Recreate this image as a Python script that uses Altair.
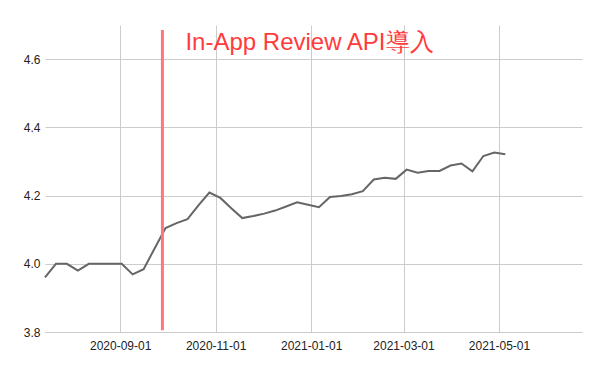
import altair as alt
import pandas as pd

start_date = "2020-07-15"
ratings = [3.960, 4.000, 4.000, 3.980, 4.000, 4.000, 4.000, 4.000, 3.969, 3.984,
           4.045, 4.105, 4.119, 4.131, 4.171, 4.209, 4.193, 4.163, 4.134, 4.140,
           4.147, 4.156, 4.168, 4.180, 4.173, 4.166, 4.196, 4.199, 4.204, 4.213,
           4.247, 4.252, 4.249, 4.276, 4.267, 4.272, 4.272, 4.288, 4.294, 4.271,
           4.316, 4.326, 4.321]
dates = pd.date_range(start_date, periods=len(ratings), freq="7D").strftime("%Y-%m-%d").tolist()

event_date = ["2020-09-28"]
event_label = ["In-App Review API導入"]
event_y = [4.685]
event_y2 = [3.805]

x_ticks = [(2020, 9), (2020, 11), (2021, 1), (2021, 3), (2021, 5)]
y_ticks = [3.8, 4.0, 4.2, 4.4, 4.6]

df = pd.DataFrame({"date": dates, "rating": ratings})
ev = pd.DataFrame({"date": event_date, "label": event_label, "y": event_y, "y2": event_y2})

font = "Liberation Sans"

x_scale = alt.Scale(type="utc",
                    domain=[alt.DateTime(year=2020, month=7, date=15, utc=True),
                            alt.DateTime(year=2021, month=6, date=23, utc=True)])
y_scale = alt.Scale(domain=[3.8, 4.7], nice=False, zero=False)

x_axis = alt.Axis(values=[alt.DateTime(year=y, month=m, date=1, utc=True) for y, m in x_ticks],
                  format="%Y-%m-%d", title=None, domain=False, ticks=False,
                  labelPadding=8, labelFontSize=12, labelFont=font, labelColor="#222222",
                  gridColor="#cccccc", labelFlush=False)
y_axis = alt.Axis(values=y_ticks, format=".1f", title=None, domain=False, ticks=False,
                  labelPadding=5, labelFontSize=12, labelFont=font, labelColor="#222222",
                  gridColor="#cccccc")

x_enc = alt.X("date:T", scale=x_scale, axis=x_axis)

line = alt.Chart(df).mark_line(color="#666666", strokeWidth=2).encode(
    x=x_enc,
    y=alt.Y("rating:Q", scale=y_scale, axis=y_axis),
)

rule = alt.Chart(ev).mark_rule(color="#ff7878", strokeWidth=3).encode(
    x=x_enc,
    y=alt.Y("y:Q", scale=y_scale, axis=y_axis),
    y2="y2:Q",
)

text = alt.Chart(ev).mark_text(color="#ff3b3b", fontSize=24, font=font, align="left",
                               baseline="alphabetic", dx=23).encode(
    x=x_enc,
    y=alt.value(25),
    text="label:N",
)

chart = alt.layer(line, rule, text).properties(
    width=537, height=307,
    background="white",
    autosize=alt.AutoSizeParams(type="none"),
    padding={"left": 45, "top": 25, "right": 18, "bottom": 39},
).configure_view(strokeWidth=0)

chart.save("out.html", embed_options={"renderer": "svg", "actions": False})
